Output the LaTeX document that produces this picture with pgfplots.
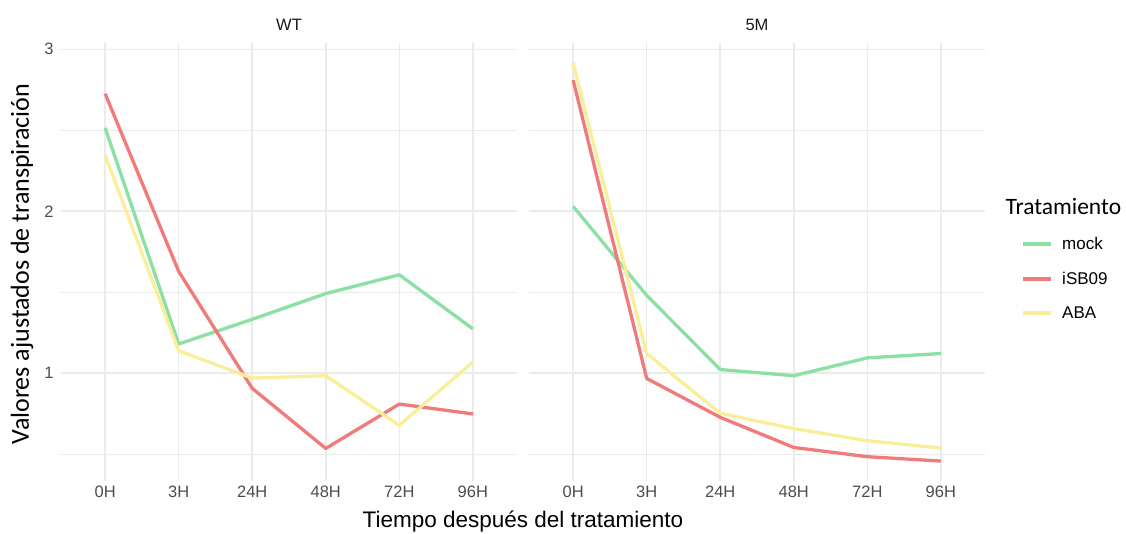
\documentclass[border=0pt]{standalone}
\usepackage{fontspec}
\setmainfont{Liberation Sans}
\newfontfamily\carlito{Carlito}
\usepackage{pgfplots}
\pgfplotsset{compat=1.18}
\definecolor{cmock}{HTML}{8BE0A4}
\definecolor{cisb}{HTML}{F07B7B}
\definecolor{caba}{HTML}{F9EE99}
\definecolor{gridc}{HTML}{EBEBEB}
\definecolor{tickc}{HTML}{4D4D4D}
\pgfplotsset{
  facet/.style={
    scale only axis, width=456pt, height=438pt,
    xmin=-0.6, xmax=5.6, ymin=0.335, ymax=3.039,
    xtick={0,1,2,3,4,5},
    xticklabels={0H,3H,24H,48H,72H,96H},
    ytick={1,2,3}, minor ytick={0.5,1.5,2.5},
    grid=both,
    major grid style={color=gridc, line width=1.6pt},
    minor grid style={color=gridc, line width=0.9pt},
    axis line style={draw=none},
    major tick style={draw=none}, minor tick style={draw=none},
    tick label style={font=\fontsize{16.5}{17}\selectfont, text=tickc},
    /pgf/number format/assume math mode=true,
    xticklabel style={yshift=-1pt},
    yticklabel style={xshift=-4pt},
    title style={font=\fontsize{16.5}{17}\selectfont, text=black!90, yshift=3pt},
    every axis plot/.append style={line width=3.3pt, line join=round, no markers},
  }
}
\begin{document}
\begin{tikzpicture}[x=1pt,y=1pt]
\path[use as bounding box] (0,0) rectangle (1126,534);
\begin{axis}[facet, at={(61pt,53pt)}, anchor=south west, title={WT}]
\addplot[cmock] coordinates {(0,2.515) (1,1.181) (2,1.333) (3,1.492) (4,1.608) (5,1.274)};
\addplot[cisb] coordinates {(0,2.726) (1,1.629) (2,0.907) (3,0.536) (4,0.810) (5,0.749)};
\addplot[caba] coordinates {(0,2.346) (1,1.139) (2,0.970) (3,0.985) (4,0.679) (5,1.070)};
\end{axis}
\begin{axis}[facet, at={(529pt,53pt)}, anchor=south west, title={5M}, yticklabels={},
  legend style={at={(1.079,0.562)}, anchor=north west, draw=none, fill=none,
    font=\fontsize{17}{17}\selectfont, inner sep=0pt, row sep=17pt,
    nodes={inner xsep=9pt}},
  legend cell align=left,
  legend image code/.code={\draw[#1, line width=4pt] (0pt,0pt) -- (28pt,0pt);}]
\addplot[cmock] coordinates {(0,2.03) (1,1.481) (2,1.023) (3,0.985) (4,1.095) (5,1.122)};
\addplot[cisb] coordinates {(0,2.81) (1,0.968) (2,0.728) (3,0.542) (4,0.485) (5,0.458)};
\addplot[caba] coordinates {(0,2.916) (1,1.122) (2,0.753) (3,0.658) (4,0.584) (5,0.538)};
\legend{mock,iSB09,ABA}
\end{axis}
\node[anchor=west, font=\carlito\fontsize{23.5}{24}\selectfont] at (1002,327) {Tratamiento};
\node[font=\fontsize{22.5}{23}\selectfont] at (523,12) {Tiempo después del tratamiento};
\node[rotate=90, font=\carlito\fontsize{26}{26}\selectfont] at (22,270) {Valores ajustados de transpiración};
\end{tikzpicture}
\end{document}
